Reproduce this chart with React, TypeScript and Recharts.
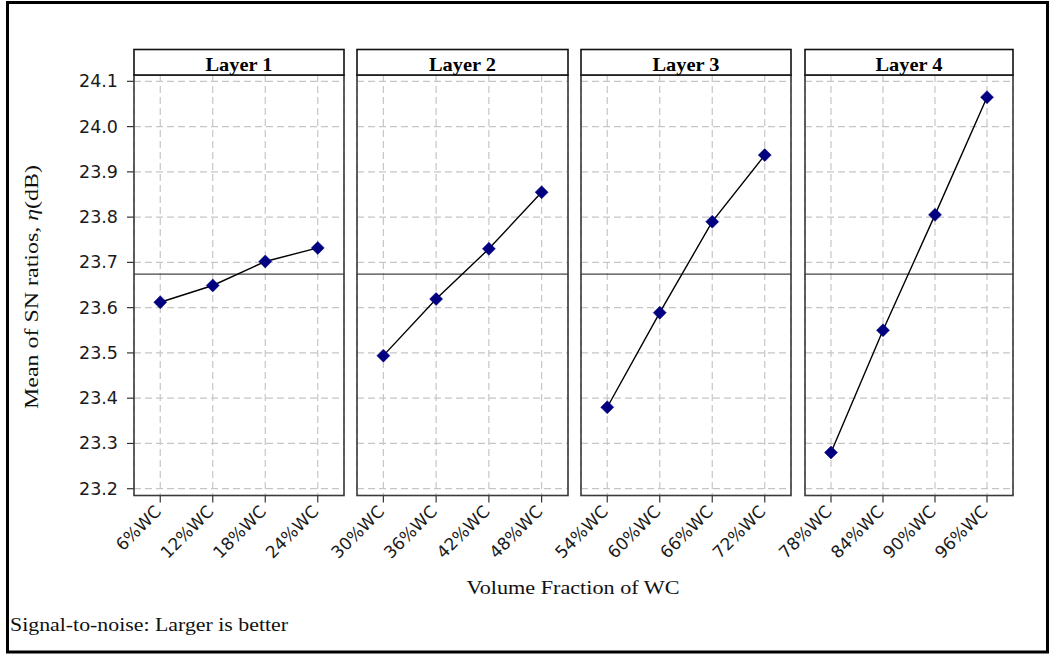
import React from 'react';
import { LineChart, Line, XAxis, YAxis, CartesianGrid, ReferenceLine } from 'recharts';

const layer1Categories = ['6%WC', '12%WC', '18%WC', '24%WC'];
const layer2Categories = ['30%WC', '36%WC', '42%WC', '48%WC'];
const layer3Categories = ['54%WC', '60%WC', '66%WC', '72%WC'];
const layer4Categories = ['78%WC', '84%WC', '90%WC', '96%WC'];

const layer1Values = [23.612, 23.649, 23.702, 23.732];
const layer2Values = [23.494, 23.619, 23.730, 23.855];
const layer3Values = [23.380, 23.589, 23.790, 23.937];
const layer4Values = [23.280, 23.550, 23.805, 24.065];

const panelTitles = ['Layer 1', 'Layer 2', 'Layer 3', 'Layer 4'];
const yTicks = [23.2, 23.3, 23.4, 23.5, 23.6, 23.7, 23.8, 23.9, 24.0, 24.1];
const gridValues = [23.2, 23.25, 23.3, 23.35, 23.4, 23.45, 23.5, 23.55, 23.6, 23.65, 23.7, 23.75, 23.8, 23.85, 23.9, 23.95, 24.0, 24.05, 24.1];
const yDomain = [23.185, 24.114];
const grandMean = 23.674;

const W = 1053;
const H = 654;
const PLOT_TOP = 75;
const PLOT_BOTTOM = 495.5;
const HEADER_TOP = 49.5;
const XH = 60;
const YW = 60;
const panels = [
  { left: 134, right: 344 },
  { left: 357, right: 568 },
  { left: 581, right: 791 },
  { left: 805, right: 1013 },
];

const series = [
  { cats: layer1Categories, vals: layer1Values },
  { cats: layer2Categories, vals: layer2Values },
  { cats: layer3Categories, vals: layer3Values },
  { cats: layer4Categories, vals: layer4Values },
];

const tickFont = '"DejaVu Sans", Verdana, sans-serif';
const serif = '"Liberation Serif", "Times New Roman", serif';

const Diamond = (props: any) => {
  const { cx, cy } = props;
  if (cx == null || cy == null) return null;
  return (
    <polygon
      points={`${cx},${cy - 6.5} ${cx + 6.5},${cy} ${cx},${cy + 6.5} ${cx - 6.5},${cy}`}
      fill="#000080"
      stroke="#000080"
      strokeWidth={0.5}
    />
  );
};

const XTick = (props: any) => {
  const { x, y, payload } = props;
  const ax = x + 2;
  const ay = y + 8;
  return (
    <text
      x={ax}
      y={ay}
      transform={`rotate(-45, ${ax}, ${ay})`}
      textAnchor="end"
      fontFamily={tickFont}
      fontSize={17}
      fill="#1a1a1a"
    >
      {payload.value}
    </text>
  );
};

const YTick = (props: any) => {
  const { x, y, payload } = props;
  return (
    <text x={x} y={y} dy={6} textAnchor="end" fontFamily={tickFont} fontSize={17.5} fill="#1a1a1a">
      {Number(payload.value).toFixed(1)}
    </text>
  );
};

export default function App() {
  return (
    <div style={{ position: 'absolute', left: 0, top: 0, width: W, height: H, background: '#fff' }}>
      {series.map((s, i) => {
        const p = panels[i];
        const first = i === 0;
        const pad = (p.right - p.left) / 8;
        const data = s.cats.map((c, k) => ({ name: c, value: s.vals[k] }));
        return (
          <div key={i} style={{ position: 'absolute', left: 0, top: 0 }}>
            <LineChart
              width={W}
              height={H}
              data={data}
              margin={{
                top: PLOT_TOP,
                bottom: H - PLOT_BOTTOM - XH,
                left: first ? p.left - YW : p.left,
                right: W - p.right,
              }}
            >
              <CartesianGrid stroke="#c6c6c6" strokeDasharray="7 4" strokeWidth={1.2} horizontalValues={gridValues} />
              <XAxis
                dataKey="name"
                interval={0}
                padding={{ left: pad, right: pad }}
                tickSize={7}
                tickLine={{ stroke: '#333', strokeWidth: 1.2 }}
                axisLine={false}
                height={XH}
                tick={<XTick />}
              />
              <YAxis
                type="number"
                domain={yDomain}
                ticks={yTicks}
                allowDataOverflow
                hide={!first}
                width={first ? YW : 0}
                tickSize={7}
                tickMargin={9}
                tickLine={{ stroke: '#333', strokeWidth: 1.2 }}
                axisLine={false}
                tick={<YTick />}
              />
              <ReferenceLine y={grandMean} stroke="#444" strokeWidth={1.3} />
              <Line
                type="linear"
                dataKey="value"
                stroke="#000"
                strokeWidth={1.4}
                dot={<Diamond />}
                activeDot={false}
                isAnimationActive={false}
              />
            </LineChart>
          </div>
        );
      })}
      <svg width={W} height={H} style={{ position: 'absolute', left: 0, top: 0, pointerEvents: 'none' }}>
        <rect x={7.5} y={2.5} width={1040} height={649.5} fill="none" stroke="#000" strokeWidth={3} />
        {panels.map((p, i) => (
          <g key={i}>
            <rect x={p.left} y={PLOT_TOP} width={p.right - p.left} height={PLOT_BOTTOM - PLOT_TOP} fill="none" stroke="#3a3a3a" strokeWidth={1.6} />
            <rect x={p.left} y={HEADER_TOP} width={p.right - p.left} height={PLOT_TOP - HEADER_TOP} fill="#fff" stroke="#111" strokeWidth={1.6} />
            <text x={(p.left + p.right) / 2} y={71} textAnchor="middle" fontFamily={serif} fontWeight="bold" fontSize={19.5} fill="#000" textLength={67} lengthAdjust="spacingAndGlyphs">
              {panelTitles[i]}
            </text>
          </g>
        ))}
        <text x={573} y={594} textAnchor="middle" fontFamily={serif} fontSize={19} fill="#111" textLength={213} lengthAdjust="spacingAndGlyphs">
          Volume Fraction of WC
        </text>
        <text x={0} y={0} transform="translate(38, 287) rotate(-90)" textAnchor="middle" fontFamily={serif} fontSize={19} fill="#111" textLength={244} lengthAdjust="spacingAndGlyphs">
          Mean of SN ratios, <tspan fontStyle="italic">η</tspan>(dB)
        </text>
        <text x={10} y={631} fontFamily={serif} fontSize={18} fill="#111" textLength={278} lengthAdjust="spacingAndGlyphs">
          Signal-to-noise: Larger is better
        </text>
      </svg>
    </div>
  );
}
